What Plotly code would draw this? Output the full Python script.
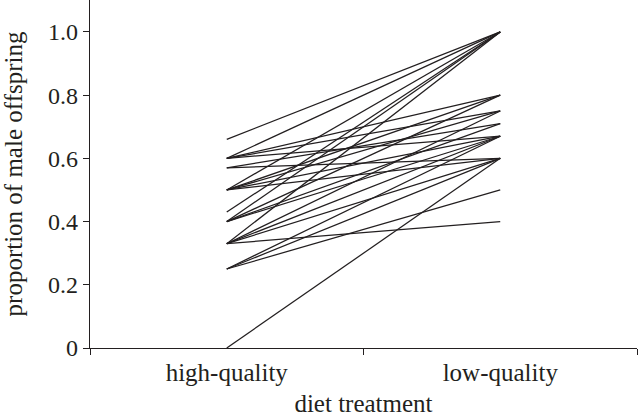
import plotly.graph_objects as go

# Diet treatments (categories)
treatments = ["high-quality", "low-quality"]

# Proportion of male offspring for each individual, paired by index
high_quality = [0.66, 0.60, 0.50, 0.43, 0.40, 0.33,
                0.60, 0.50, 0.40,
                0.60, 0.50, 0.33,
                0.57, 0.40,
                0.60, 0.50, 0.40, 0.33, 0.25,
                0.57, 0.50, 0.33, 0.25, 0.00,
                0.25,
                0.33]
low_quality = [1.00, 1.00, 1.00, 1.00, 1.00, 1.00,
               0.80, 0.80, 0.80,
               0.75, 0.75, 0.75,
               0.71, 0.71,
               0.67, 0.67, 0.67, 0.67, 0.67,
               0.60, 0.60, 0.60, 0.60, 0.60,
               0.50,
               0.40]

y_tickvals = [0, 0.2, 0.4, 0.6, 0.8, 1.0]
y_ticktext = ["0", "0.2", "0.4", "0.6", "0.8", "1.0"]

xs, ys = [], []
for h, l in zip(high_quality, low_quality):
    xs += [treatments[0], treatments[1], None]
    ys += [h, l, None]

ink = "#231f20"
fig = go.Figure()
fig.add_trace(go.Scatter(x=xs, y=ys, mode="lines",
                         line=dict(color=ink, width=1.25),
                         connectgaps=False, showlegend=False, hoverinfo="skip"))

font_family = "Liberation Serif"
fig.update_layout(
    width=638, height=417,
    margin=dict(l=90, r=1, t=0, b=69, autoexpand=False),
    paper_bgcolor="white", plot_bgcolor="white",
    font=dict(family=font_family, color=ink),
    xaxis=dict(
        type="category", categoryorder="array", categoryarray=treatments,
        range=[-0.5, 1.5], showgrid=False, zeroline=False,
        showline=True, linecolor=ink, linewidth=1.2,
        ticks="outside", tickson="boundaries", ticklen=6, tickcolor=ink, tickwidth=1.2,
        tickfont=dict(size=25, family=font_family), ticklabelstandoff=2,
        title=dict(text="diet treatment", font=dict(size=25, family=font_family), standoff=11),
        automargin=False,
    ),
    yaxis=dict(
        range=[0, 1.101], showgrid=False, zeroline=False,
        showline=True, linecolor=ink, linewidth=1.2,
        ticks="outside", ticklen=6, tickcolor=ink, tickwidth=1.2,
        tickvals=y_tickvals, ticktext=y_ticktext,
        tickfont=dict(size=24, family=font_family), ticklabelstandoff=0,
        title=dict(text="proportion of male offspring", font=dict(size=25, family=font_family), standoff=19),
        automargin=False,
    ),
)

fig.write_html("out.html", config={"displayModeBar": False},
               post_script="document.body.style.margin='0';")
